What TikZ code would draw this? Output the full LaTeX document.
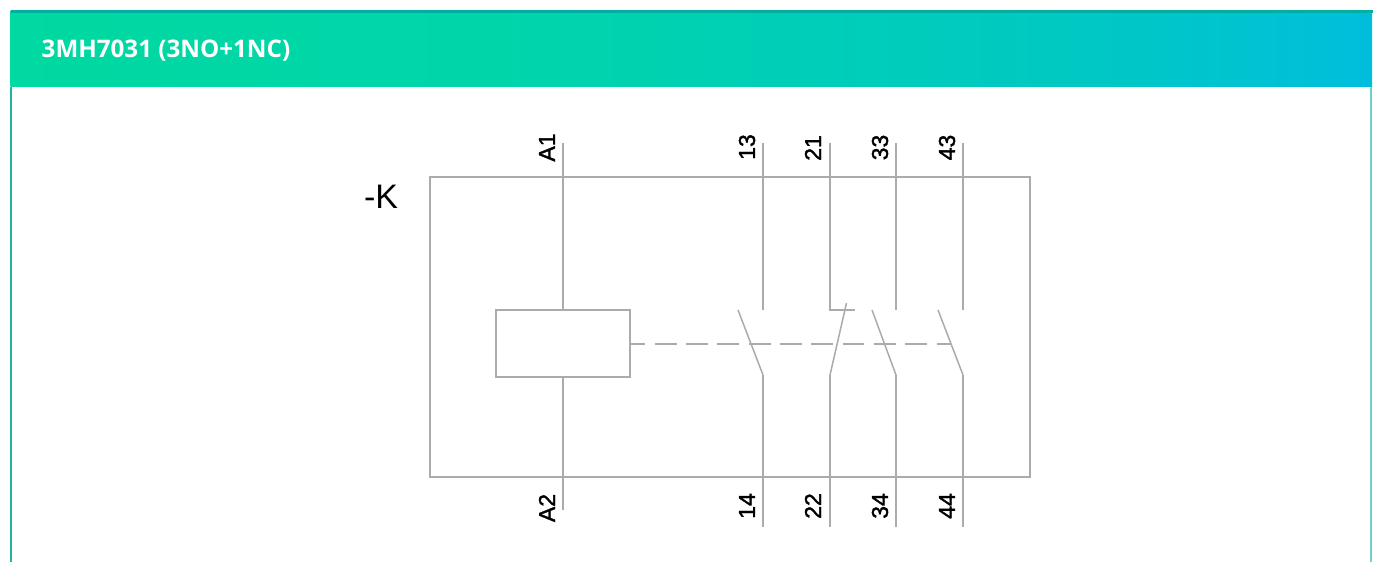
\documentclass[tikz,border=0pt]{standalone}
\usepackage{fontspec}
\setmainfont{Liberation Sans}
\newfontfamily\headfont{Open Sans}
\newfontfamily\termfont[FakeBold=1.6]{Liberation Sans}
\definecolor{wire}{HTML}{ABABAB}
\definecolor{cardl}{HTML}{1FB5A3}
\definecolor{cardr}{HTML}{6FD0CC}
\definecolor{cardt}{HTML}{00AFA2}
\pgfdeclarehorizontalshading{hdrshade}{100bp}{
  rgb(0bp)=(0,0.85,0.63);
  rgb(25bp)=(0,0.85,0.63);
  rgb(43bp)=(0,0.835,0.667);
  rgb(65bp)=(0,0.784,0.769);
  rgb(75bp)=(0,0.745,0.863);
  rgb(100bp)=(0,0.745,0.863)}
\tikzset{
  wireline/.style={draw=wire,line width=1.8pt},
  bladeline/.style={draw=wire,line width=1.5pt},
  linkline/.style={draw=wire,line width=1.6pt,dash pattern=on 21.8pt off 9.5pt,dash phase=7.3pt},
  termlabel/.style={rotate=90,font=\termfont\fontsize{23}{23}\selectfont,text=black,inner sep=0pt,anchor=center},
  coilbox/.style={draw=wire,line width=1.6pt,minimum width=134pt,minimum height=67pt,inner sep=0pt,fill=white},
  framebox/.style={draw=wire,line width=1.6pt,minimum width=600pt,minimum height=300pt,inner sep=0pt}
}
\begin{document}
\begin{tikzpicture}[x=1pt,y=-1pt]
\useasboundingbox (0,0) rectangle (1374,562);
% card
\fill[white] (0,0) rectangle (1374,562);
\draw[cardl,line width=2pt] (11.3,87) -- (11.3,562);
\draw[cardr,line width=2pt] (1371,87) -- (1371,562);
\shade[shading=hdrshade] (10.5,10) rectangle (1372,86.8);
\fill[cardt] (10.5,10) rectangle (1372.5,13);
\node[anchor=west,text=white,inner sep=0pt,font=\headfont\bfseries\fontsize{24.2}{24.2}\selectfont] (title) at (41.5,51) {3MH7031 (3NO+1NC)};
% frame and coil
\node[framebox] (frame) at (730,327) {};
\node[coilbox] (coil) at (563,343.5) {};
\node[anchor=center,inner sep=0pt,font=\fontsize{34}{34}\selectfont] (kk) at (381,197) {-K};
% terminal labels
\node[termlabel] (la1) at (547,147.5) {A1};
\node[termlabel] (l13) at (747,147) {13};
\node[termlabel] (l21) at (813,148) {21};
\node[termlabel] (l33) at (880,147.5) {33};
\node[termlabel] (l43) at (947,147.5) {43};
\node[termlabel] (la2) at (547,508) {A2};
\node[termlabel] (l14) at (747,506) {14};
\node[termlabel] (l22) at (813,506) {22};
\node[termlabel] (l34) at (880,506) {34};
\node[termlabel] (l44) at (947,506) {44};
% coordinates
\coordinate (a1) at (563,143);
\coordinate (a2) at (563,510);
\foreach \n/\x in {c/763,d/830,e/896,f/963}{
  \coordinate (\n top) at (\x,143);
  \coordinate (\n mid) at (\x,310);
  \coordinate (\n low) at (\x,375);
  \coordinate (\n bot) at (\x,527);
}
\coordinate (cblade) at (738,310);
\coordinate (dblade) at (846.5,303);
\coordinate (dhook) at (855,310);
\coordinate (eblade) at (872,310);
\coordinate (fblade) at (938,310);
\coordinate (linkend) at (951,344);
% wires
\draw[wireline] (a1) -- (coil.north);
\draw[wireline] (coil.south) -- (a2);
\foreach \n in {c,d,e,f}{
  \draw[wireline] (\n low) -- (\n bot);
}
\foreach \n in {c,e,f}{
  \draw[wireline] (\n top) -- (\n mid);
}
\draw[wireline] (dtop) -- (dmid) -- (dhook);
\draw[bladeline] (cblade) -- (clow);
\draw[bladeline] (dlow) -- (dblade);
\draw[bladeline] (eblade) -- (elow);
\draw[bladeline] (fblade) -- (flow);
\draw[linkline] (coil.east |- linkend) -- (linkend);
\end{tikzpicture}
\end{document}
